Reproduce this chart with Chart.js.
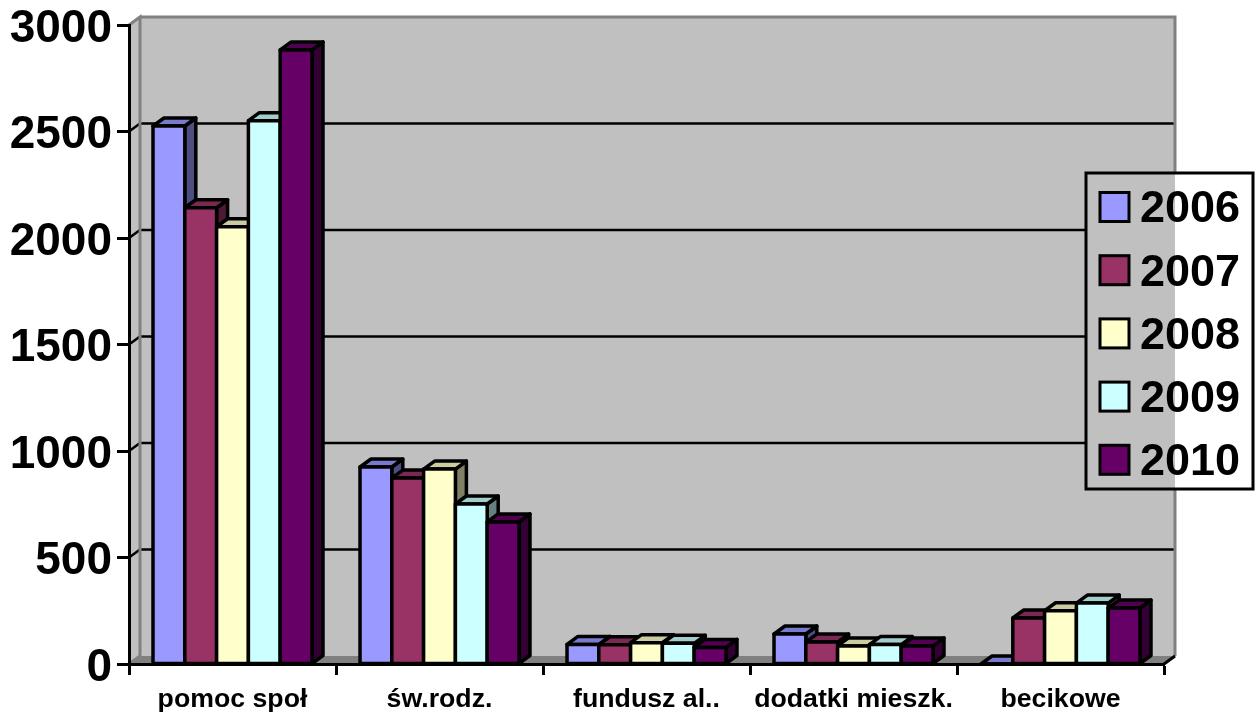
<!DOCTYPE html>
<html>
<head>
<meta charset="utf-8">
<style>html,body{margin:0;padding:0;background:#fff}canvas{display:block}</style>
<script src="https://cdn.jsdelivr.net/npm/chart.js@4"></script>
</head>
<body>
<canvas id="c" width="1260" height="713"></canvas>
<script>
const categories = ['pomoc społ', 'św.rodz.', 'fundusz al..', 'dodatki mieszk.', 'becikowe'];
const years = ['2006', '2007', '2008', '2009', '2010'];
const values2006 = [2526, 925, 92, 141, 0];
const values2007 = [2142, 873, 90, 103, 216];
const values2008 = [2053, 915, 100, 85, 250];
const values2009 = [2551, 751, 97, 91, 286];
const values2010 = [2883, 667, 78, 85, 263];
const colors = ['#9999FF', '#993366', '#FFFFCC', '#CCFFFF', '#660066'];

const DX = 11, DY = -8, WALL = '#C0C0C0', EDGE = '#808080', FONT = '"Liberation Sans", Arial, sans-serif';
const BAR_LINE = 3.5;

function shade(hex, f) {
  const n = parseInt(hex.slice(1), 16);
  return `rgb(${Math.round((n >> 16 & 255) * f)},${Math.round((n >> 8 & 255) * f)},${Math.round((n & 255) * f)})`;
}
function poly(ctx, pts, fill, stroke, lw) {
  ctx.beginPath();
  pts.forEach((p, i) => i ? ctx.lineTo(p[0], p[1]) : ctx.moveTo(p[0], p[1]));
  ctx.closePath();
  if (fill) { ctx.fillStyle = fill; ctx.fill(); }
  if (stroke) { ctx.strokeStyle = stroke; ctx.lineWidth = lw; ctx.lineJoin = 'round'; ctx.stroke(); }
}
const walls = {
  id: 'walls',
  beforeDraw(chart) {
    const { ctx, chartArea: a, scales } = chart;
    // the value labels sit slightly below their tick marks in this chart
    scales.y.getLabelItems(a).forEach(it => { it.options.translation[1] += 4; });
    ctx.save();
    poly(ctx, [[a.left, a.bottom], [a.left + DX, a.bottom + DY], [a.right + DX, a.bottom + DY], [a.right, a.bottom]], EDGE);
    poly(ctx, [[a.left + DX, a.top + DY], [a.right + DX, a.top + DY], [a.right + DX, a.bottom + DY], [a.left + DX, a.bottom + DY]], WALL);
    poly(ctx, [[a.left, a.top], [a.left + DX, a.top + DY], [a.left + DX, a.bottom + DY], [a.left, a.bottom]], WALL);
    ctx.strokeStyle = '#000'; ctx.lineWidth = 2.5;
    scales.y.ticks.forEach(t => {
      if (t.value === 0 || t.value === scales.y.max) return;
      const y = scales.y.getPixelForValue(t.value);
      ctx.beginPath();
      ctx.moveTo(a.left, y); ctx.lineTo(a.left + DX, y + DY); ctx.lineTo(a.right + DX, y + DY);
      ctx.stroke();
    });
    ctx.lineWidth = 3;
    ctx.strokeStyle = EDGE;
    ctx.beginPath();
    ctx.moveTo(a.left, a.bottom); ctx.lineTo(a.left + DX, a.bottom + DY);
    ctx.lineTo(a.left + DX, a.top + DY); ctx.lineTo(a.left, a.top);
    ctx.moveTo(a.left + DX, a.top + DY); ctx.lineTo(a.right + DX, a.top + DY); ctx.lineTo(a.right + DX, a.bottom + DY);
    ctx.stroke();
    ctx.strokeStyle = '#000';
    ctx.beginPath(); ctx.moveTo(a.right, a.bottom); ctx.lineTo(a.right + DX, a.bottom + DY); ctx.stroke();
    ctx.restore();
  }
};
// Draws the library's bar elements left to right, each with its 3D faces.
const bars3d = {
  id: 'bars3d',
  beforeDatasetsDraw(chart) {
    const { ctx } = chart;
    ctx.save();
    chart.data.datasets.forEach((d, i) => {
      const meta = chart.getDatasetMeta(i), col = colors[i];
      meta.data.forEach(b => {
        const l = b.x - b.width / 2, r = b.x + b.width / 2, t = b.y, bt = b.base;
        poly(ctx, [[r, t], [r + DX, t + DY], [r + DX, bt + DY], [r, bt]], shade(col, .5), '#000', BAR_LINE);
        poly(ctx, [[l, t], [l + DX, t + DY], [r + DX, t + DY], [r, t]], shade(col, .8), '#000', BAR_LINE);
      });
      meta.controller.draw();
      meta.data.forEach(b => {
        const l = b.x - b.width / 2, r = b.x + b.width / 2;
        poly(ctx, [[l, b.y], [r, b.y], [r, b.base], [l, b.base]], null, '#000', BAR_LINE);
      });
    });
    ctx.restore();
    return false;
  }
};
const legendBox = {
  id: 'legendBox',
  afterDraw(chart) {
    const { ctx, chartArea: a } = chart;
    const x0 = 1086, y0 = 173, x1 = 1253, y1 = 489, wallEnd = a.right + DX;
    ctx.save();
    ctx.fillStyle = WALL; ctx.fillRect(x0, y0, wallEnd - x0, y1 - y0);
    ctx.fillStyle = '#fff'; ctx.fillRect(wallEnd, y0, x1 - wallEnd, y1 - y0);
    ctx.strokeStyle = '#000'; ctx.lineWidth = 3; ctx.strokeRect(x0, y0, x1 - x0, y1 - y0);
    ctx.font = 'bold 45px ' + FONT; ctx.textBaseline = 'middle'; ctx.textAlign = 'left';
    chart.data.datasets.forEach((d, i) => {
      const cy = 207 + i * 63.2;
      ctx.fillStyle = d.backgroundColor;
      ctx.fillRect(1100, cy - 14.5, 29, 29);
      ctx.lineWidth = 3; ctx.strokeRect(1100, cy - 14.5, 29, 29);
      ctx.fillStyle = '#000';
      ctx.fillText(d.label, 1140, cy + 3);
    });
    ctx.restore();
  }
};
const seriesValues = [values2006, values2007, values2008, values2009, values2010];
new Chart(document.getElementById('c'), {
  type: 'bar',
  data: {
    labels: categories,
    datasets: years.map((y, i) => ({
      label: y, data: seriesValues[i], backgroundColor: colors[i], borderWidth: 0
    }))
  },
  plugins: [walls, bars3d, legendBox],
  options: {
    responsive: false, animation: false, devicePixelRatio: 1,
    layout: { padding: { top: 25, right: 96, left: 0, bottom: 0 } },
    datasets: { bar: { categoryPercentage: 0.768, barPercentage: 1 } },
    plugins: { legend: { display: false }, tooltip: { enabled: false } },
    scales: {
      x: {
        z: 1,
        grid: { drawOnChartArea: false, tickLength: 11, tickColor: '#000', tickWidth: 3 },
        border: { color: '#000', width: 3 },
        ticks: { color: '#000', font: { family: FONT, weight: 'bold', size: 26.7 }, maxRotation: 0, autoSkip: false, padding: 9 },
        afterFit(s) { s.height = 49; s.paddingLeft = 0; s.paddingRight = 0; }
      },
      y: {
        z: 1, min: 0, max: 3000,
        grid: { drawOnChartArea: false, tickLength: 12, tickColor: '#000', tickWidth: 3 },
        border: { color: '#000', width: 3 },
        ticks: { stepSize: 500, color: '#000', font: { family: FONT, weight: 'bold', size: 46 }, padding: 5, callback: v => String(v) },
        afterFit(s) { s.width = 129; s.paddingTop = 0; s.paddingBottom = 0; }
      }
    }
  }
});
</script>
</body>
</html>
